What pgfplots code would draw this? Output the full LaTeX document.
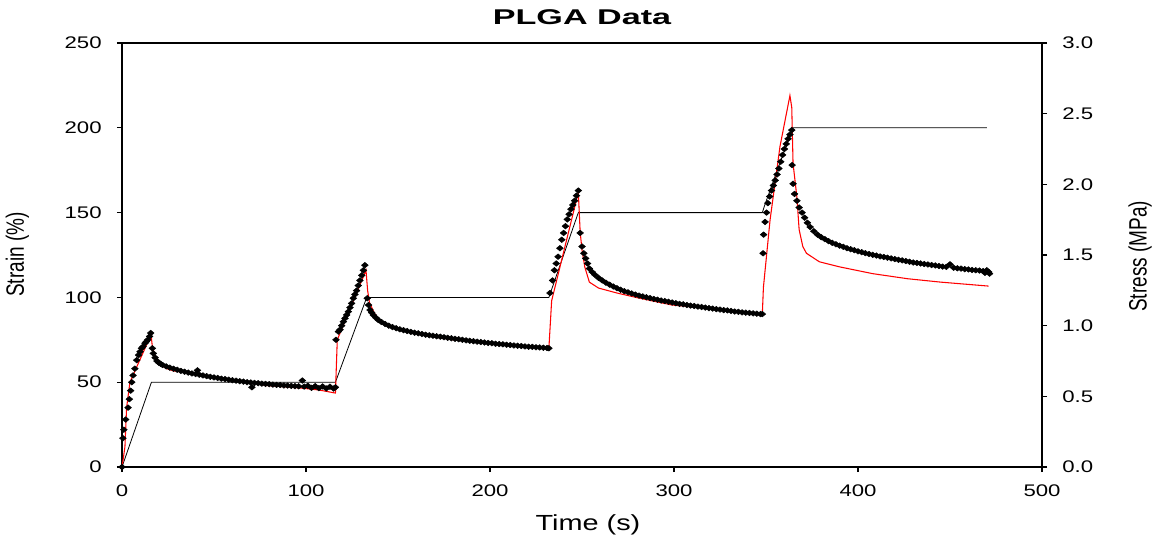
\documentclass[border=0pt]{standalone}
\usepackage{pgfplots}
\pgfplotsset{compat=1.18}
\usepackage{pgfplotstable}
\usepackage{fontspec}
\setmainfont{Liberation Sans}

\pgfplotstableread{
t s
0 0
0.5 0.204
1 0.264
2 0.336
3.3 0.420
4 0.480
4.7 0.540
5.3 0.600
6 0.648
7 0.696
8 0.756
9 0.792
9.8 0.816
10.6 0.840
11.4 0.852
12.5 0.876
13.3 0.888
14 0.900
15 0.924
15.6 0.948
16.5 0.840
17 0.804
18 0.774
19 0.750
20 0.738
21 0.730
22 0.722
24 0.712
26 0.703
28 0.695
30 0.688
32 0.680
34 0.674
36 0.668
38 0.662
40 0.658
41 0.684
42 0.653
44 0.648
46 0.643
48 0.638
50 0.634
52 0.630
54 0.625
56 0.622
58 0.618
60 0.614
62 0.611
64 0.607
66 0.604
68 0.600
70 0.598
70.6 0.564
72 0.595
74 0.593
76 0.590
78 0.588
80 0.586
82 0.583
84 0.581
86 0.580
88 0.577
90 0.576
92 0.574
94 0.572
96 0.571
98 0.612
99 0.569
101 0.575
103 0.560
105 0.572
107 0.558
109 0.570
111 0.556
113 0.568
115 0.555
116 0.564
116.3 0.900
117.6 0.958
118.5 0.972
119.4 1.000
120.3 1.028
121.2 1.052
122.1 1.076
123.0 1.099
123.9 1.128
124.8 1.158
125.7 1.194
126.6 1.221
127.5 1.248
128.4 1.284
129.3 1.320
130.3 1.356
131.2 1.392
132.0 1.428
133.3 1.194
134 1.146
134.8 1.111
135.7 1.092
136.6 1.075
138 1.056
139.3 1.040
141 1.026
143 1.012
145 1.000
147 0.990
149 0.982
151 0.974
153 0.968
155 0.962
157 0.956
159 0.950
161 0.946
163 0.941
165 0.936
167 0.932
169 0.929
171 0.925
173 0.922
175 0.918
177 0.914
179 0.911
181 0.907
183 0.904
185 0.900
187 0.896
189 0.893
191 0.890
193 0.887
195 0.884
197 0.881
199 0.878
201 0.876
203 0.872
205 0.870
207 0.868
209 0.865
211 0.863
213 0.860
215 0.858
217 0.856
219 0.853
221 0.851
223 0.850
225 0.847
227 0.846
229 0.844
231 0.842
232 0.840
232.6 1.231
234 1.320
235 1.392
236 1.440
237 1.488
238 1.548
239 1.608
240 1.656
241 1.704
242 1.752
243 1.788
244 1.824
245 1.854
246 1.884
247 1.920
248 1.956
249 1.656
250 1.560
251 1.512
252 1.476
253 1.440
254 1.404
255.5 1.380
257 1.360
259 1.338
261 1.320
263 1.304
265 1.290
267 1.277
269 1.265
271 1.254
273 1.244
275 1.236
277 1.228
279 1.220
281 1.213
283 1.207
285 1.201
287 1.195
289 1.189
291 1.184
293 1.178
295 1.174
297 1.169
299 1.164
301 1.159
303 1.154
305 1.151
307 1.146
309 1.142
311 1.139
313 1.135
315 1.132
317 1.128
319 1.124
321 1.121
323 1.117
325 1.114
327 1.110
329 1.108
331 1.104
333 1.100
335 1.098
337 1.094
339 1.092
341 1.090
343 1.087
345 1.085
347 1.082
348 1.082
348.4 1.512
348.7 1.644
349.5 1.734
350.3 1.800
351 1.867
352 1.914
353 1.956
354 1.992
355 2.028
356 2.070
357 2.112
358 2.160
359 2.208
360 2.250
361 2.286
362 2.322
363 2.352
364 2.384
364.2 2.136
364.7 2.004
365.5 1.932
366.8 1.884
368 1.836
369.6 1.800
371 1.764
372.5 1.728
374 1.698
376 1.668
378 1.644
380 1.626
382 1.612
384 1.598
386 1.586
388 1.576
390 1.566
392 1.558
394 1.548
396 1.541
398 1.534
400 1.526
402 1.520
404 1.513
406 1.507
408 1.501
410 1.496
412 1.490
414 1.486
416 1.481
418 1.476
420 1.471
422 1.466
424 1.462
426 1.457
428 1.452
430 1.447
432 1.444
434 1.440
436 1.436
438 1.433
440 1.429
442 1.426
444 1.422
446 1.418
448 1.416
450 1.434
452 1.410
454 1.406
456 1.404
458 1.400
460 1.398
462 1.394
464 1.392
466 1.390
468 1.386
469 1.374
470 1.392
471 1.380
471.5 1.368
}\stressdata

\pgfplotstableread{
t s
0 0
0.6 0.050
1.6 0.144
2.5 0.420
4.3 0.600
15.8 0.936
16.5 0.850
17.9 0.792
19.6 0.744
22 0.714
24.3 0.696
28 0.680
33 0.672
42 0.648
50 0.633
60 0.612
70 0.595
79 0.576
88 0.568
97 0.559
107 0.545
116 0.523
117 0.900
132.6 1.392
133.5 1.248
134.5 1.164
137 1.092
141 1.020
146 0.990
152 0.972
162 0.936
180 0.900
198 0.876
216 0.852
232 0.840
233.5 1.176
248 1.944
249 1.663
250 1.536
251.5 1.416
254 1.308
259 1.266
269 1.231
281 1.195
299 1.146
318 1.124
336 1.097
348 1.082
348.6 1.272
352.2 1.747
357.6 2.268
363 2.628
364 2.544
364.7 2.148
366.8 1.908
368 1.680
370 1.560
372 1.512
379 1.452
390 1.416
408 1.368
427 1.332
445 1.308
471 1.280
}\modeldata

\newcommand{\tl}[1]{\scalebox{1.32}[1]{#1}}

\begin{document}
\begin{tikzpicture}
\useasboundingbox (-91.5pt,-54.75pt) rectangle (774.75pt,350.25pt);
\begin{axis}[
  at={(0pt,0pt)}, anchor=south west,
  scale only axis, width=690pt, height=318pt,
  xmin=0, xmax=500, ymin=0, ymax=250,
  axis line style={line width=0.8pt},
  tick align=outside, major tick length=3.75pt,
  tick style={line width=0.8pt, black},
  xtick pos=lower, ytick pos=lower,
  xtick={0,100,200,300,400,500},
  xticklabels={\tl{0},\tl{100},\tl{200},\tl{300},\tl{400},\tl{500}},
  ytick={0,50,100,150,200,250},
  yticklabels={\tl{0},\tl{50},\tl{100},\tl{150},\tl{200},\tl{250}},
  tick label style={font=\fontsize{12.6}{14}\selectfont},
  xticklabel style={yshift=-6pt},
  yticklabel style={xshift=-8pt},
  clip=false,
]
\addplot[black, line width=0.6pt] coordinates {
(0,0) (16,50) (116,50) (133,100) (232,100) (248,150) (348,150) (349.5,155) (364.5,200) (470,200)
};
\end{axis}
\begin{axis}[
  at={(0pt,0pt)}, anchor=south west,
  scale only axis, width=690pt, height=318pt,
  xmin=0, xmax=500, ymin=0, ymax=3,
  axis x line=none, axis y line*=right,
  axis line style={line width=0.8pt},
  tick align=outside, major tick length=3.75pt,
  tick style={line width=0.8pt, black},
  ytick={0,0.5,1,1.5,2,2.5,3},
  yticklabels={\tl{0.0},\tl{0.5},\tl{1.0},\tl{1.5},\tl{2.0},\tl{2.5},\tl{3.0}},
  tick label style={font=\fontsize{12.6}{14}\selectfont},
  yticklabel style={xshift=8pt},
  clip=false,
]
\addplot[only marks, mark=diamond*, mark size=2.1pt, mark options={xscale=1.6, fill=black, draw=black}] table[x=t, y=s] {\stressdata};
\addplot[red, line width=0.8pt] table[x=t, y=s] {\modeldata};
\end{axis}
\node[font=\bfseries\fontsize{16}{19}\selectfont] at (345pt,337.5pt) {\scalebox{1.6}[1]{PLGA Data}};
\node[font=\fontsize{16.4}{19}\selectfont] at (349.5pt,-43.5pt) {\scalebox{1.32}[1]{Time (s)}};
\node[font=\fontsize{14.25}{17}\selectfont, rotate=90] at (-78.4pt,159.4pt) {\scalebox{1}[1.32]{Strain (\%)}};
\node[font=\fontsize{14.25}{17}\selectfont, rotate=90] at (763.5pt,158pt) {\scalebox{1}[1.32]{Stress (MPa)}};
\end{tikzpicture}
\end{document}
